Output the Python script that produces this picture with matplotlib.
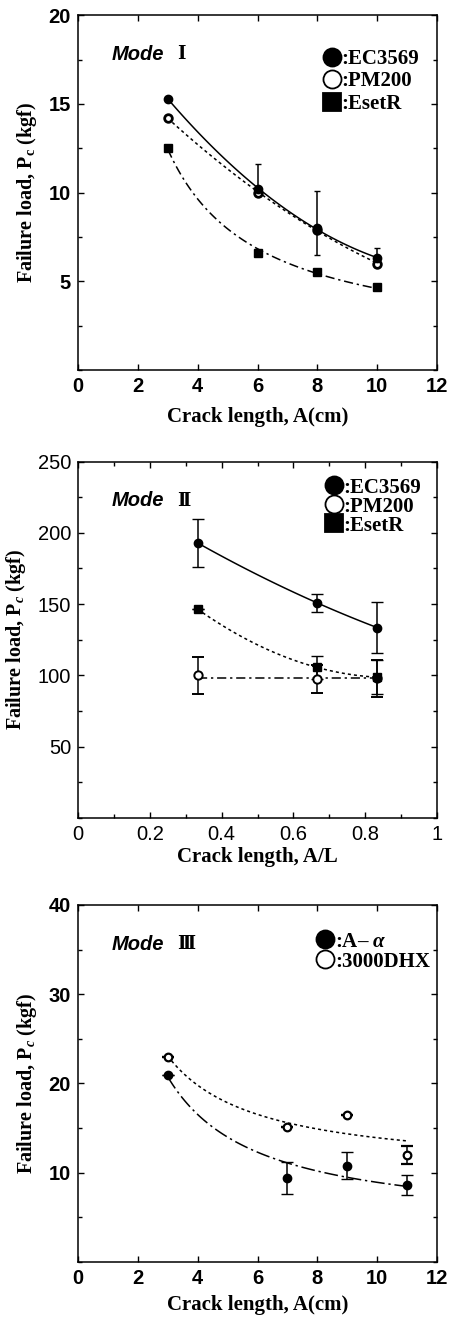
import numpy as np
import matplotlib
matplotlib.use('Agg')
import matplotlib.pyplot as plt
from matplotlib.lines import Line2D
from matplotlib.ticker import MultipleLocator, FuncFormatter

matplotlib.rcParams['mathtext.fontset'] = 'custom'
matplotlib.rcParams['mathtext.rm'] = 'Liberation Serif:bold'
matplotlib.rcParams['mathtext.it'] = 'Liberation Serif:italic:bold'

# ---- Mode I ----
x1 = [3, 6, 8, 10]
ec1 = [15.3, 10.2, 8.0, 6.3]
ec1_err_lo = [0.0, 0.4, 1.5, 0.4]
ec1_err_hi = [0.0, 1.4, 2.1, 0.6]
pm1 = [14.2, 10.0, 7.9, 6.0]
es1 = [12.5, 6.6, 5.5, 4.7]

# ---- Mode II ----
x2 = [1/3, 2/3, 5/6]
ec2 = [192.9, 150.8, 133.5]
ec2_err = [17.0, 6.5, 18.0]
pm2 = [99.9, 97.3, 98.0]
pm2_err = [13.2, 10.0, 13.0]
es2 = [146.4, 105.5, 98.7]
es2_err = [0.0, 8.0, 12.0]

# ---- Mode III ----
x3 = [3, 7, 9, 11]
aa3 = [21.0, 9.4, 10.8, 8.6]
aa3_err = [0.0, 1.8, 1.5, 1.1]
dhx3 = [23.0, 15.1, 16.5, 12.0]
dhx3_err = [0.0, 0.0, 0.0, 1.0]

serif = 'Liberation Serif'
sans = 'Liberation Sans'
roman = ['DejaVu Serif', 'DejaVu Sans', 'Noto Sans CJK JP']

fig = plt.figure(figsize=(4.51, 13.19), dpi=100)
ax1 = fig.add_axes([0.173, 0.7195, 0.796, 0.269])
ax2 = fig.add_axes([0.173, 0.380, 0.796, 0.270])
ax3 = fig.add_axes([0.173, 0.0432, 0.796, 0.2707])

dotted = (0, (2, 2))
dashdot = (0, (6, 2.5, 1.5, 2.5))
longdash = (0, (9, 2.5, 1.5, 2.5))


def trend(ax, x, y, deg, ls, inv=False):
    # least squares trend line, either in x or in 1/x
    x = np.asarray(x, float)
    xs = np.linspace(x.min(), x.max(), 100)
    if inv:
        c = np.polyfit(1 / x, y, deg)
        ys = np.polyval(c, 1 / xs)
    else:
        c = np.polyfit(x, y, deg)
        ys = np.polyval(c, xs)
    ax.plot(xs, ys, color='k', lw=1.1, linestyle=ls)


def style(ax, weight):
    ax.tick_params(which='both', direction='in', top=True, right=True)
    ax.tick_params(which='major', length=4, width=1)
    ax.tick_params(which='minor', length=3, width=1)
    ax.tick_params(axis='x', pad=5)
    ax.tick_params(axis='y', pad=5)
    for s in ax.spines.values():
        s.set_linewidth(1.1)
    for lab in ax.get_xticklabels() + ax.get_yticklabels():
        lab.set_fontfamily(sans)
        lab.set_fontsize(14.5)
        lab.set_fontweight(weight)


def mode_label(ax, num):
    ax.text(0.095, 0.89, 'Mode', transform=ax.transAxes, fontfamily=sans,
            fontweight='bold', fontstyle='italic', fontsize=14.5, va='center')
    ax.text(0.275, 0.89, num, transform=ax.transAxes, family=roman,
            fontweight='bold', fontsize=13, va='center')


def legend(ax, items, anchor, spacing):
    handles = [Line2D([], [], ls='none', marker=m, ms=13, mfc=fc, mec='k',
                      mew=1.3) for m, fc, _ in items]
    labels = [t for _, _, t in items]
    ax.legend(handles, labels, loc='upper right', bbox_to_anchor=anchor,
              frameon=False, handlelength=0.8, handletextpad=0.05,
              borderaxespad=0, borderpad=0, labelspacing=spacing,
              prop={'family': serif, 'weight': 'bold', 'size': 15})


def labels(ax, xlab, ylab, pad):
    ax.set_xlabel(xlab, fontfamily=serif, fontweight='bold', fontsize=15,
                  labelpad=pad)
    ax.set_ylabel(ylab, fontfamily=serif, fontweight='bold', fontsize=14.5,
                  labelpad=7)


# ---------- panel 1 ----------
trend(ax1, x1, ec1, 2, '-')
trend(ax1, x1, pm1, 2, dotted)
trend(ax1, x1, es1, 1, dashdot, inv=True)
ax1.errorbar(x1, ec1, yerr=[ec1_err_lo, ec1_err_hi], fmt='o', color='k',
             ms=6, elinewidth=1.1, capsize=2.5)
ax1.plot(x1, pm1, 'o', ms=5.5, mfc='white', mec='k', mew=2)
ax1.plot(x1, es1, 's', ms=5.5, color='k')
ax1.set_xlim(0, 12)
ax1.set_ylim(0, 20)
ax1.set_xticks(range(0, 13, 2))
ax1.set_yticks([5, 10, 15, 20])
ax1.yaxis.set_minor_locator(MultipleLocator(2.5))
labels(ax1, 'Crack length, A(cm)', 'Failure load, P$_\\mathrm{c}$ (kgf)', 8)
style(ax1, 'bold')
mode_label(ax1, 'Ⅰ')
legend(ax1, [('o', 'k', ':EC3569'), ('o', 'white', ':PM200'),
             ('s', 'k', ':EsetR')], (0.95, 0.905), 0.12)

# ---------- panel 2 ----------
trend(ax2, x2, ec2, 2, '-')
trend(ax2, x2, es2, 2, dotted)
trend(ax2, x2, pm2, 0, dashdot)
ax2.errorbar(x2, ec2, yerr=ec2_err, fmt='o', color='k', ms=6,
             elinewidth=1.1, capsize=4)
ax2.errorbar(x2, pm2, yerr=pm2_err, fmt='o', ms=6, mfc='white', mec='k',
             mew=1.4, ecolor='k', elinewidth=1.1, capsize=4)
ax2.errorbar(x2, es2, yerr=es2_err, fmt='s', color='k', ms=5.5,
             elinewidth=1.1, capsize=4)
ax2.set_xlim(0, 1)
ax2.set_ylim(0, 250)
ax2.set_xticks([0, 0.2, 0.4, 0.6, 0.8, 1])
ax2.xaxis.set_major_formatter(FuncFormatter(lambda v, p: '%g' % v))
ax2.set_yticks([50, 100, 150, 200, 250])
ax2.xaxis.set_minor_locator(MultipleLocator(0.1))
ax2.yaxis.set_minor_locator(MultipleLocator(25))
labels(ax2, 'Crack length, A/L', 'Failure load, P$_\\mathit{c}$ (kgf)', 2)
style(ax2, 'normal')
mode_label(ax2, 'Ⅱ')
legend(ax2, [('o', 'k', ':EC3569'), ('o', 'white', ':PM200'),
             ('s', 'k', ':EsetR')], (0.955, 0.955), -0.05)

# ---------- panel 3 ----------
trend(ax3, x3, dhx3, 1, dotted, inv=True)
trend(ax3, x3, aa3, 1, longdash, inv=True)
ax3.errorbar(x3, aa3, yerr=aa3_err, fmt='o', color='k', ms=6,
             elinewidth=1.1, capsize=4)
ax3.errorbar(x3, dhx3, yerr=dhx3_err, fmt='o', ms=5.5, mfc='white', mec='k',
             mew=1.6, ecolor='k', elinewidth=1.1, capsize=4)
ax3.set_xlim(0, 12)
ax3.set_ylim(0, 40)
ax3.set_xticks(range(0, 13, 2))
ax3.set_yticks([10, 20, 30, 40])
ax3.yaxis.set_minor_locator(MultipleLocator(5))
labels(ax3, 'Crack length, A(cm)', 'Failure load, P$_\\mathit{c}$ (kgf)', 5)
style(ax3, 'bold')
mode_label(ax3, 'Ⅲ')
legend(ax3, [('o', 'k', ':A– $\\mathit{\\alpha}$'),
             ('o', 'white', ':3000DHX')], (0.98, 0.925), 0.0)

fig.savefig('out.png', dpi=100)
